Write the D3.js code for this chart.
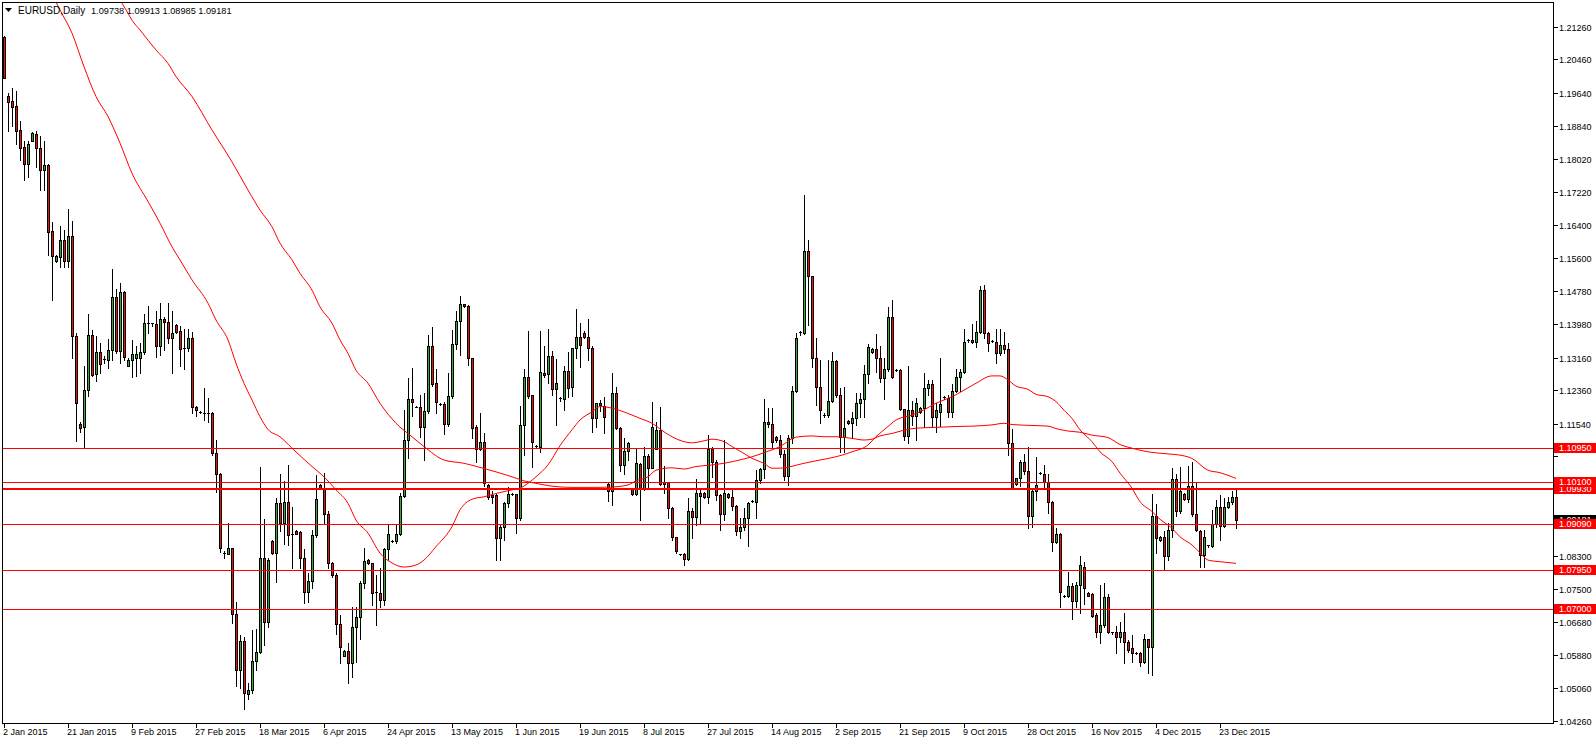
<!DOCTYPE html>
<html><head><meta charset="utf-8">
<script src="https://cdn.jsdelivr.net/npm/d3@7"></script>
<style>
body{margin:0;background:#fff;}
svg{display:block;font-family:"Liberation Sans",Arial,sans-serif;}
</style></head><body>
<svg id="c" width="1596" height="744"></svg>
<script>
// ---- data (EURUSD daily 2015, Sunday bars included) ----
const opens=[
1.2101,1.1956,1.1944,1.1932,1.1873,1.1831,1.1789,1.1847,1.1863,1.1830,
1.1774,1.1787,1.1626,1.1552,1.1563,1.1604,1.1553,1.1614,1.1369,1.1153,
1.1145,1.1236,1.1371,1.1275,1.1329,1.1312,1.1311,1.1334,1.1464,1.1333,
1.1476,1.1296,1.1311,1.1314,1.1316,1.1329,1.1400,1.1400,1.1397,1.1345,
1.1410,1.1402,1.1363,1.1396,1.1380,1.1339,1.1339,1.1363,1.1194,1.1183,
1.1181,1.1180,1.1179,1.1081,1.1030,1.0838,1.0836,1.0849,1.0688,1.0552,
1.0623,1.0492,1.0502,1.0572,1.0594,1.0824,1.0669,1.0867,1.0838,1.0959,
1.0912,1.0963,1.0885,1.0892,1.0888,1.0824,1.0741,1.0770,1.0881,1.1004,
1.0996,1.0934,1.0812,1.0783,1.0663,1.0586,1.0597,1.0569,1.0655,1.0681,
1.0765,1.0820,1.0812,1.0739,1.0739,1.0722,1.0846,1.0867,1.0867,1.0884,
1.0977,1.1114,1.1214,1.1196,1.1194,1.1147,1.1185,1.1343,1.1253,1.1202,
1.1202,1.1152,1.1222,1.1349,1.1405,1.1446,1.1442,1.1314,1.1146,1.1091,
1.1109,1.1004,1.0979,1.0979,1.0873,1.0900,1.0959,1.0982,1.0982,1.0922,
1.1150,1.1268,1.1224,1.1100,1.1098,1.1279,1.1275,1.1320,1.1238,1.1216,
1.1214,1.1283,1.1245,1.1339,1.1367,1.1377,1.1367,1.1339,1.1167,1.1204,
1.1198,1.1006,1.0990,1.1228,1.1143,1.1054,1.1087,1.0993,1.0982,1.1055,
1.0997,1.1075,1.1046,1.1093,1.1139,1.1010,1.1010,1.0947,1.0876,1.0834,
1.0834,1.0822,1.0940,1.0926,1.0985,1.0984,1.0975,1.1091,1.1061,1.0979,
1.0933,1.0982,1.0974,1.0952,1.0892,1.0900,1.0924,1.0964,1.0961,1.1016,
1.1042,1.1157,1.1152,1.1121,1.1114,1.1079,1.1025,1.1120,1.1234,1.1377,
1.1377,1.1577,1.1516,1.1314,1.1245,1.1176,1.1175,1.1210,1.1308,1.1223,
1.1121,1.1161,1.1155,1.1167,1.1204,1.1214,1.1276,1.1329,1.1337,1.1316,
1.1265,1.1287,1.1414,1.1285,1.1285,1.1189,1.1125,1.1188,1.1173,1.1183,
1.1192,1.1241,1.1251,1.1171,1.1183,1.1220,1.1216,1.1183,1.1235,1.1268,
1.1280,1.1360,1.1360,1.1353,1.1379,1.1481,1.1377,1.1357,1.1355,1.1328,
1.1347,1.1336,1.1106,1.1006,1.1020,1.1059,1.1038,1.0928,1.0990,1.1034,
1.1032,1.1012,1.0961,1.0865,1.0883,1.0733,1.0732,1.0757,1.0721,1.0759,
1.0804,1.0740,1.0737,1.0686,1.0645,1.0661,1.0730,1.0643,1.0645,1.0632,
1.0645,1.0620,1.0604,1.0593,1.0593,1.0571,1.0626,1.0608,1.0928,1.0869,
1.0876,1.0831,1.0894,1.1018,1.0939,1.0982,1.0970,1.1001,1.0932,1.0891,
1.0832,1.0856,1.0855,1.0908,1.0949,1.0904,1.0949,1.0961,1.09738];
const highs=[
1.2104,1.1963,1.1975,1.1969,1.1895,1.1846,1.1846,1.1869,1.1871,1.1858,
1.1846,1.1790,1.1649,1.1566,1.1638,1.1628,1.1679,1.1650,1.1375,1.1159,
1.1295,1.1423,1.1383,1.1369,1.1352,1.1320,1.1361,1.1532,1.1483,1.1498,
1.1480,1.1314,1.1359,1.1344,1.1352,1.1423,1.1443,1.1401,1.1431,1.1449,
1.1416,1.1449,1.1430,1.1398,1.1393,1.1385,1.1387,1.1379,1.1197,1.1186,
1.1241,1.1216,1.1183,1.1114,1.1034,1.0842,1.0910,1.0850,1.0717,1.0637,
1.0632,1.0518,1.0650,1.0652,1.1049,1.0920,1.0824,1.0869,1.0971,1.1031,
1.1014,1.1053,1.0951,1.0894,1.0890,1.0846,1.0788,1.0894,1.1028,1.1006,
1.1034,1.0939,1.0816,1.0788,1.0686,1.0600,1.0616,1.0706,1.0706,1.0770,
1.0849,1.0823,1.0814,1.0783,1.0801,1.0850,1.0905,1.0870,1.0909,1.0984,
1.1188,1.1265,1.1290,1.1198,1.1223,1.1228,1.1371,1.1390,1.1287,1.1204,
1.1206,1.1277,1.1383,1.1431,1.1467,1.1448,1.1445,1.1316,1.1151,1.1181,
1.1130,1.1006,1.0990,1.0981,1.0906,1.0961,1.1000,1.0984,1.0983,1.1197,
1.1287,1.1381,1.1224,1.1102,1.1381,1.1345,1.1385,1.1333,1.1312,1.1220,
1.1295,1.1330,1.1339,1.1436,1.1400,1.1380,1.1410,1.1343,1.1205,1.1213,
1.1220,1.1010,1.1277,1.1243,1.1147,1.1120,1.1108,1.0995,1.1095,1.1057,
1.1096,1.1080,1.1208,1.1157,1.1196,1.1050,1.1012,1.0949,1.0877,1.0836,
1.0837,1.0971,1.0947,1.1018,1.0996,1.0986,1.1126,1.1098,1.1065,1.0982,
1.1114,1.0985,1.0992,1.0955,1.0922,1.0947,1.0961,1.0966,1.1041,1.1045,
1.1214,1.1192,1.1192,1.1123,1.1126,1.1090,1.1127,1.1246,1.1377,1.1381,
1.1714,1.1604,1.1516,1.1363,1.1310,1.1180,1.1310,1.1330,1.1310,1.1241,
1.1245,1.1163,1.1183,1.1228,1.1228,1.1298,1.1349,1.1339,1.1374,1.1343,
1.1316,1.1439,1.1458,1.1288,1.1287,1.1189,1.1295,1.1210,1.1216,1.1195,
1.1279,1.1261,1.1261,1.1204,1.1316,1.1222,1.1224,1.1250,1.1287,1.1287,
1.1387,1.1361,1.1398,1.1406,1.1490,1.1494,1.1379,1.1360,1.1387,1.1387,
1.1379,1.1351,1.1140,1.1022,1.1065,1.1080,1.1096,1.0996,1.1072,1.1036,
1.1053,1.1031,1.0965,1.0898,1.0886,1.0735,1.0792,1.0763,1.0767,1.0830,
1.0816,1.0742,1.0739,1.0690,1.0759,1.0763,1.0736,1.0645,1.0659,1.0669,
1.0690,1.0624,1.0637,1.0595,1.0596,1.0639,1.0626,1.0982,1.0957,1.0880,
1.0890,1.0912,1.1045,1.1032,1.1049,1.0985,1.1050,1.1061,1.1010,1.0893,
1.0894,1.0858,1.0943,1.0967,1.0979,1.0971,1.0975,1.0988,1.09913];
const lows=[
1.2000,1.1871,1.1883,1.1839,1.1800,1.1751,1.1759,1.1845,1.1783,1.1725,
1.1725,1.1567,1.1458,1.1550,1.1538,1.1538,1.1538,1.1316,1.1112,1.1133,
1.1098,1.1222,1.1271,1.1259,1.1277,1.1303,1.1291,1.1311,1.1326,1.1303,
1.1311,1.1294,1.1269,1.1271,1.1279,1.1325,1.1377,1.1393,1.1318,1.1321,
1.1334,1.1352,1.1277,1.1377,1.1294,1.1287,1.1333,1.1181,1.1173,1.1179,
1.1163,1.1159,1.1077,1.0987,1.0841,1.0824,1.0836,1.0665,1.0512,1.0506,
1.0456,1.0481,1.0494,1.0551,1.0592,1.0612,1.0655,1.0835,1.0767,1.0890,
1.0859,1.0857,1.0800,1.0884,1.0800,1.0714,1.0718,1.0751,1.0877,1.0994,
1.0910,1.0800,1.0779,1.0638,1.0569,1.0584,1.0520,1.0534,1.0571,1.0628,
1.0751,1.0810,1.0710,1.0661,1.0706,1.0710,1.0820,1.0865,1.0863,1.0882,
1.0974,1.1071,1.1173,1.1194,1.1122,1.1065,1.1180,1.1246,1.1181,1.1200,
1.1129,1.1149,1.1216,1.1338,1.1322,1.1440,1.1298,1.1118,1.1061,1.1090,
1.1001,1.0970,1.0960,1.0820,1.0820,1.0869,1.0951,1.0979,1.0887,1.0917,
1.1078,1.1216,1.1049,1.1098,1.1084,1.1269,1.1253,1.1224,1.1151,1.1210,
1.1187,1.1220,1.1222,1.1314,1.1292,1.1365,1.1310,1.1134,1.1147,1.1185,
1.1130,1.0965,1.0955,1.1140,1.1037,1.1032,1.1065,1.0980,1.0979,1.0918,
1.0992,1.0996,1.1045,1.1091,1.1004,1.0985,1.0922,1.0869,1.0837,1.0832,
1.0808,1.0820,1.0873,1.0906,1.0910,1.0972,1.0959,1.1024,1.0967,1.0894,
1.0918,1.0972,1.0943,1.0881,1.0873,1.0894,1.0855,1.0962,1.0924,1.1008,
1.1020,1.1145,1.1098,1.1110,1.1073,1.1017,1.1005,1.1106,1.1232,1.1372,
1.1374,1.1396,1.1292,1.1200,1.1155,1.1170,1.1171,1.1208,1.1220,1.1085,
1.1085,1.1153,1.1118,1.1151,1.1171,1.1171,1.1253,1.1327,1.1281,1.1257,
1.1214,1.1284,1.1265,1.1282,1.1188,1.1114,1.1106,1.1150,1.1114,1.1181,
1.1147,1.1225,1.1147,1.1134,1.1148,1.1214,1.1171,1.1171,1.1232,1.1235,
1.1279,1.1355,1.1351,1.1341,1.1377,1.1363,1.1333,1.1354,1.1303,1.1322,
1.1326,1.1077,1.0993,1.1004,1.1001,1.1032,1.0898,1.0902,1.0966,1.1031,
1.0993,1.0936,1.0843,1.0863,1.0706,1.0730,1.0730,1.0675,1.0706,1.0691,
1.0712,1.0731,1.0681,1.0631,1.0618,1.0657,1.0641,1.0640,1.0593,1.0620,
1.0567,1.0596,1.0571,1.0591,1.0561,1.0567,1.0543,1.0539,1.0837,1.0866,
1.0796,1.0820,1.0877,1.0928,1.0936,1.0968,1.0963,1.0928,1.0890,1.0802,
1.0802,1.0852,1.0853,1.0902,1.0869,1.0902,1.0947,1.0957,1.08985];
const closes=[
1.2000,1.1942,1.1930,1.1871,1.1830,1.1789,1.1840,1.1865,1.1828,1.1774,
1.1787,1.1624,1.1565,1.1565,1.1604,1.1553,1.1614,1.1369,1.1205,1.1143,
1.1236,1.1371,1.1273,1.1329,1.1299,1.1311,1.1334,1.1464,1.1333,1.1476,
1.1318,1.1311,1.1325,1.1325,1.1329,1.1400,1.1397,1.1399,1.1345,1.1410,
1.1402,1.1363,1.1375,1.1379,1.1336,1.1336,1.1363,1.1194,1.1187,1.1182,
1.1180,1.1178,1.1081,1.1030,1.0849,1.0834,1.0849,1.0688,1.0552,1.0623,
1.0494,1.0502,1.0572,1.0594,1.0824,1.0669,1.0820,1.0838,1.0959,1.0912,
1.0963,1.0881,1.0881,1.0885,1.0824,1.0741,1.0770,1.0881,1.0969,1.0996,
1.0934,1.0812,1.0783,1.0663,1.0608,1.0597,1.0569,1.0655,1.0681,1.0765,
1.0818,1.0812,1.0739,1.0741,1.0722,1.0846,1.0885,1.0867,1.0884,1.0977,
1.1114,1.1214,1.1208,1.1196,1.1147,1.1185,1.1343,1.1250,1.1206,1.1202,
1.1152,1.1222,1.1349,1.1405,1.1447,1.1442,1.1314,1.1144,1.1091,1.1109,
1.1008,1.0975,1.0975,1.0873,1.0900,1.0959,1.0983,1.0981,1.0922,1.1150,
1.1268,1.1222,1.1110,1.1100,1.1280,1.1273,1.1320,1.1238,1.1253,1.1214,
1.1283,1.1242,1.1339,1.1367,1.1347,1.1367,1.1339,1.1167,1.1204,1.1199,
1.1170,1.0990,1.1228,1.1143,1.1054,1.1087,1.1106,1.0982,1.1057,1.0997,
1.1075,1.1046,1.1147,1.1139,1.1006,1.1006,1.0947,1.0876,1.0843,1.0834,
1.0822,1.0940,1.0926,1.0985,1.0977,1.0975,1.1091,1.1061,1.0979,1.0933,
1.0985,1.0974,1.0952,1.0892,1.0900,1.0924,1.0959,1.0964,1.1016,1.1042,
1.1157,1.1152,1.1108,1.1113,1.1079,1.1025,1.1120,1.1234,1.1365,1.1378,
1.1577,1.1516,1.1314,1.1245,1.1188,1.1175,1.1210,1.1308,1.1223,1.1121,
1.1143,1.1155,1.1167,1.1204,1.1214,1.1276,1.1341,1.1337,1.1316,1.1265,
1.1287,1.1414,1.1268,1.1285,1.1189,1.1125,1.1188,1.1173,1.1204,1.1193,
1.1241,1.1251,1.1171,1.1188,1.1202,1.1216,1.1183,1.1235,1.1268,1.1280,
1.1353,1.1360,1.1353,1.1379,1.1481,1.1377,1.1352,1.1357,1.1328,1.1347,
1.1336,1.1106,1.0996,1.1020,1.1059,1.1038,1.0928,1.0990,1.1004,1.1034,
1.1012,1.0961,1.0865,1.0883,1.0743,1.0733,1.0757,1.0721,1.0759,1.0807,
1.0751,1.0733,1.0683,1.0645,1.0661,1.0730,1.0645,1.0642,1.0632,1.0645,
1.0620,1.0601,1.0593,1.0593,1.0571,1.0626,1.0608,1.0928,1.0873,1.0877,
1.0831,1.0894,1.1018,1.0939,1.0989,1.0970,1.1001,1.0932,1.0894,1.0832,
1.0876,1.0855,1.0908,1.0949,1.0903,1.0949,1.0963,1.0974,1.09181];

// moving averages: [bar index, value]
const maFast=[[12,1.2206],[14,1.2167],[17,1.2110],[20,1.2028],[23,1.1955],[26,1.1906],[29,1.1841],[32,1.1767],[36,1.1698],[39,1.1645],[42,1.1587],[44,1.1555],[47,1.1506],[51,1.1449],[53,1.1408],[56,1.1359],[58,1.1302],[60,1.1253],[62,1.1212],[64,1.1171],[66,1.1140],[69,1.1122],[72,1.1094],[77,1.1049],[80,1.1024],[83,1.0992],[86,1.0959],[88,1.0918],[91,1.0886],[94,1.0837],[97,1.0813],[100,1.0803],[103,1.0808],[105,1.0820],[108,1.0853],[112,1.0902],[114,1.0943],[117,1.0969],[120,1.0975],[123,1.0983],[127,1.0992],[129,1.0996],[131,1.1008],[133,1.1024],[136,1.1053],[139,1.1100],[142,1.1139],[144,1.1163],[147,1.1183],[149,1.1196],[152,1.1192],[156,1.1179],[159,1.1167],[162,1.1155],[165,1.1134],[167,1.1122],[170,1.1110],[172,1.1107],[175,1.1112],[177,1.1116],[180,1.1110],[182,1.1098],[185,1.1081],[187,1.1069],[190,1.1057],[192,1.1045],[194,1.1045],[200,1.1057],[204,1.1065],[208,1.1073],[212,1.1085],[216,1.1102],[218,1.1122],[221,1.1147],[223,1.1163],[227,1.1175],[230,1.1188],[233,1.1204],[237,1.1220],[240,1.1236],[243,1.1253],[247,1.1271],[249,1.1271],[251,1.1261],[253,1.1246],[256,1.1238],[258,1.1226],[261,1.1220],[263,1.1208],[265,1.1187],[267,1.1167],[269,1.1139],[272,1.1110],[274,1.1085],[277,1.1061],[279,1.1033],[282,1.0996],[284,1.0963],[287,1.0939],[289,1.0920],[292,1.0898],[294,1.0877],[297,1.0857],[299,1.0838],[301,1.0820],[304,1.0816],[308,1.0812]];
const maSlow=[[28,1.2207],[31,1.2159],[32,1.2142],[34,1.2118],[36,1.2093],[38,1.2069],[41,1.2036],[43,1.2004],[47,1.1955],[52,1.1873],[57,1.1795],[61,1.1726],[64,1.1677],[67,1.1636],[69,1.1596],[72,1.1555],[74,1.1522],[77,1.1481],[79,1.1440],[82,1.1400],[84,1.1359],[86,1.1326],[88,1.1285],[91,1.1253],[94,1.1204],[98,1.1155],[102,1.1122],[105,1.1098],[110,1.1065],[115,1.1057],[119,1.1047],[123,1.1036],[127,1.1024],[130,1.1014],[133,1.1008],[137,1.1001],[142,1.0998],[147,1.0998],[152,1.0999],[156,1.1004],[158,1.1014],[161,1.1024],[163,1.1040],[167,1.1046],[170,1.1043],[173,1.1049],[177,1.1053],[180,1.1057],[183,1.1063],[187,1.1073],[190,1.1083],[194,1.1098],[198,1.1121],[202,1.1124],[205,1.1122],[208,1.1122],[212,1.1118],[215,1.1114],[217,1.1116],[219,1.1124],[222,1.1130],[225,1.1138],[228,1.1143],[233,1.1145],[238,1.1147],[242,1.1148],[247,1.1151],[250,1.1155],[252,1.1152],[256,1.1150],[261,1.1148],[263,1.1142],[266,1.1136],[269,1.1133],[272,1.1126],[276,1.1120],[279,1.1103],[282,1.1094],[286,1.1085],[291,1.1080],[294,1.1077],[297,1.1069],[301,1.1040],[304,1.1034],[308,1.1020]];

const levels=[1.0700,1.0795,1.0909,1.0993,1.1010,1.1095];
const priceTicks=[1.21260,1.20460,1.19640,1.18840,1.18020,1.17220,1.16400,1.15600,1.14780,1.13980,1.13160,1.12360,1.11540,1.10740,1.09920,1.09120,1.08300,1.07500,1.06680,1.05880,1.05060,1.04260];
const dateLabels=["2 Jan 2015","21 Jan 2015","9 Feb 2015","27 Feb 2015","18 Mar 2015","6 Apr 2015","24 Apr 2015","13 May 2015","1 Jun 2015","19 Jun 2015","8 Jul 2015","27 Jul 2015","14 Aug 2015","2 Sep 2015","21 Sep 2015","9 Oct 2015","28 Oct 2015","16 Nov 2015","4 Dec 2015","23 Dec 2015"];
const dateLabelBars=[0,16,32,48,64,80,96,112,128,144,160,176,192,208,224,240,256,272,288,304];
const symbolTitle="EURUSD,Daily";
const lastBar=["1.09738","1.09913","1.08985","1.09181"];
const lastClose=1.09181;

// ---- drawing ----
const W=1596,H=744, L=2,T=2,R=1553,B=723;
const svg=d3.select("#c");
const x=d3.scaleLinear().domain([0,304]).range([4,1220]);
const y=d3.scaleLinear().domain([1.0426,1.2126]).range([721,26.7]);
const bull="#33a833", bear="#ee1111", red="#ff0000";

svg.append("rect").attr("width",W).attr("height",H).attr("fill","#fff");
const defs=svg.append("defs");
defs.append("clipPath").attr("id","clip").append("rect")
  .attr("x",L+1).attr("y",T+1).attr("width",R-L-1).attr("height",B-T-1);

const plot=svg.append("g").attr("clip-path","url(#clip)").attr("shape-rendering","crispEdges");

const bars=d3.range(opens.length).map(i=>({i,o:opens[i],h:highs[i],l:lows[i],c:closes[i]}));
const bg=plot.append("g").selectAll("g").data(bars).join("g");
bg.append("line")
  .attr("x1",d=>Math.round(x(d.i))+0.5).attr("x2",d=>Math.round(x(d.i))+0.5)
  .attr("y1",d=>Math.round(y(d.h))).attr("y2",d=>Math.round(y(d.l))+1)
  .attr("stroke","#000");
bg.each(function(d){
  const g=d3.select(this);
  const cx=Math.round(x(d.i));
  const yt=Math.round(y(Math.max(d.o,d.c))), yb=Math.round(y(Math.min(d.o,d.c)));
  if(yb-yt<2){
    g.append("line").attr("x1",cx-1).attr("x2",cx+2).attr("y1",yt+0.5).attr("y2",yt+0.5).attr("stroke","#000");
  } else {
    g.append("rect").attr("x",cx-0.5).attr("y",yt+0.5).attr("width",2).attr("height",yb-yt)
      .attr("fill",d.c>=d.o?bull:bear).attr("stroke","#000");
  }
});

// moving averages
const ln=d3.line().x(d=>x(d[0])).y(d=>y(d[1])).curve(d3.curveMonotoneX);
const mg=svg.append("g").attr("clip-path","url(#clip)");
[maFast,maSlow].forEach(a=>mg.append("path").attr("d",ln(a)).attr("fill","none").attr("stroke",red).attr("stroke-width",1));

// horizontal levels
plot.selectAll("line.lvl").data(levels).join("line").attr("class","lvl")
  .attr("x1",L).attr("x2",R)
  .attr("y1",d=>Math.round(y(d))+(d===1.0993?0:0.5)).attr("y2",d=>Math.round(y(d))+(d===1.0993?0:0.5))
  .attr("stroke",red).attr("stroke-width",d=>d===1.0993?2:1);

// frame
svg.append("path").attr("d",`M${L+0.5},${T+0.5}H${R+0.5}V${B+0.5}H${L+0.5}Z`)
  .attr("fill","none").attr("stroke","#000").attr("shape-rendering","crispEdges");

// right axis
const boxes=[lastClose].concat(levels);
const ax=svg.append("g").attr("font-size","9px").attr("shape-rendering","crispEdges");
priceTicks.forEach(p=>{
  const yy=Math.round(y(p))+0.5;
  ax.append("line").attr("x1",R+1).attr("x2",R+5).attr("y1",yy).attr("y2",yy).attr("stroke","#000");
  const hidden=boxes.some(v=>Math.abs(y(v)-y(p))<9);
  if(!hidden) ax.append("text").attr("x",1559).attr("y",yy+3.2).attr("fill","#000").text(p.toFixed(5));
});
// current price box (mostly covered by the 1.09090 box)
{
  const yy=Math.round(y(lastClose));
  defs.append("clipPath").attr("id","cpclip").append("rect")
    .attr("x",R+1).attr("y",yy-5).attr("width",W-R-1).attr("height",Math.max(1,Math.round(y(1.0909))-5-(yy-5)));
  ax.append("rect").attr("x",R+1).attr("y",yy-5).attr("width",W-R-1).attr("height",10).attr("fill","#000");
  ax.append("text").attr("clip-path","url(#cpclip)").attr("x",1559).attr("y",yy+3.2).attr("fill","#fff").text(lastClose.toFixed(5));
}
levels.forEach(v=>{
  const yy=Math.round(y(v));
  ax.append("rect").attr("x",R+1).attr("y",yy-5).attr("width",W-R-1).attr("height",10).attr("fill",red);
  ax.append("text").attr("x",1559).attr("y",yy+3.2).attr("fill","#fff").text(v.toFixed(5));
});

// bottom axis
const bx=svg.append("g").attr("font-size","9px").attr("shape-rendering","crispEdges");
dateLabels.forEach((t,k)=>{
  const xx=Math.round(x(dateLabelBars[k]))+0.5;
  bx.append("line").attr("x1",xx).attr("x2",xx).attr("y1",B).attr("y2",B+5).attr("stroke","#000");
  bx.append("text").attr("x",xx-1.5).attr("y",735).attr("fill","#000").text(t);
});

// title
const tg=svg.append("g");
tg.append("path").attr("d","M5,8H12L8.5,12Z").attr("fill","#000");
tg.append("text").attr("x",18).attr("y",13.5).attr("font-size","10px").attr("fill","#000").text(symbolTitle);
tg.append("text").attr("x",91).attr("y",13.5).attr("font-size","9.2px").attr("fill","#000").text(lastBar.join(" "));
</script>
</body></html>
